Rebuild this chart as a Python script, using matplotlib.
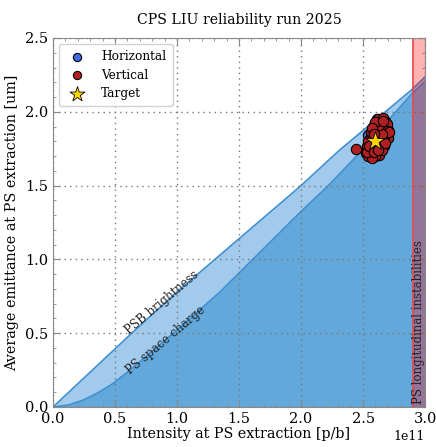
import matplotlib
matplotlib.use("Agg")
import matplotlib.pyplot as plt
import numpy as np

plt.rcParams['font.family'] = ['DejaVu Serif']

# PSB brightness limit (intensity in 1e11 p/b, emittance in um)
psb_x = [0.0, 0.635, 1.0, 1.5, 2.0, 2.31, 2.9, 3.0]
psb_y = [0.0, 0.50, 0.78, 1.14, 1.50, 1.74, 2.155, 2.237]
# PS space charge limit
pssc_x = [0.0, 0.12, 0.245, 0.36, 0.486, 0.65, 0.97, 1.347, 2.0, 2.22, 2.42, 2.9, 3.0]
pssc_y = [0.0, 0.012, 0.047, 0.095, 0.16, 0.27, 0.50, 0.78, 1.325, 1.50, 1.675, 2.128, 2.207]

# Measurements
hor_x = [2.55, 2.56, 2.60, 2.62, 2.63, 2.64, 2.67, 2.58, 2.61, 2.66, 2.59, 2.62, 2.65, 2.57, 2.64,
         2.54, 2.61, 2.68]
hor_y = [1.83, 1.85, 1.88, 1.92, 1.93, 1.90, 1.89, 1.86, 1.84, 1.85, 1.80, 1.78, 1.82, 1.76, 1.76,
         1.84, 1.95, 1.91]
ver_x = [2.52, 2.54, 2.55, 2.53, 2.56, 2.57, 2.58, 2.55, 2.57, 2.59, 2.60, 2.58, 2.61, 2.62, 2.63,
         2.61, 2.64, 2.62, 2.65, 2.66, 2.64, 2.67, 2.68, 2.66, 2.69, 2.68, 2.70, 2.63, 2.60, 2.57,
         2.65, 2.67, 2.59, 2.62, 2.66, 2.69, 2.56, 2.54, 2.53, 2.60, 2.44, 2.70, 2.63, 2.58, 2.65,
         2.55, 2.59, 2.61, 2.64, 2.67, 2.69, 2.71, 2.68, 2.65, 2.63, 2.60, 2.62, 2.66, 2.57, 2.59]
ver_y = [1.72, 1.70, 1.74, 1.77, 1.78, 1.72, 1.75, 1.81, 1.84, 1.79, 1.83, 1.88, 1.86, 1.81, 1.77,
         1.73, 1.84, 1.90, 1.88, 1.92, 1.94, 1.86, 1.90, 1.81, 1.84, 1.94, 1.88, 1.71, 1.70, 1.69,
         1.79, 1.77, 1.91, 1.95, 1.96, 1.92, 1.86, 1.80, 1.73, 1.76, 1.75, 1.82, 1.87, 1.82, 1.74,
         1.77, 1.73, 1.79, 1.80, 1.83, 1.87, 1.86, 1.79, 1.85, 1.91, 1.93, 1.74, 1.94, 1.89, 1.85]
target_x = [2.60]
target_y = [1.80]

instab_x = 2.9
scale = 1e11

fig = plt.figure(figsize=(4.36, 4.47), dpi=100)
ax = fig.add_axes([0.1216, 0.0895, 0.8534, 0.8255])

line_c = '#3d8fd1'
ax.fill_between(np.array(psb_x) * scale, psb_y, 0, color='#a2caec', lw=0, zorder=1)
ax.fill_between(np.array(pssc_x) * scale, pssc_y, 0, color='#63a8da', lw=0, zorder=1.1)
ax.plot(np.array(psb_x) * scale, psb_y, color=line_c, lw=1.2, zorder=2)
ax.plot(np.array(pssc_x) * scale, pssc_y, color=line_c, lw=1.2, zorder=2)

ax.axvspan(instab_x * scale, 3.0 * scale, facecolor='red', alpha=0.3, lw=0, zorder=3)
ax.axvline(instab_x * scale, color='#e8474a', lw=1.2, zorder=3)

ax.scatter(np.array(hor_x) * scale, hor_y, s=55, color='royalblue', edgecolor='black', lw=0.8,
           zorder=4, label='Horizontal')
ax.scatter(np.array(ver_x) * scale, ver_y, s=55, color='#b01f22', edgecolor='black', lw=0.8,
           zorder=5, label='Vertical')
ax.scatter(np.array(target_x) * scale, target_y, s=200, marker='*', color='gold', edgecolor='black',
           lw=0.6, zorder=6, label='Target')

ax.text(0.88 * scale, 0.71, 'PSB brightness', rotation=40, ha='center', va='center', fontsize=8.5,
        color='#222222', zorder=7)
ax.text(0.91 * scale, 0.45, 'PS space charge', rotation=40, ha='center', va='center', fontsize=8.5,
        color='#222222', zorder=7)
ax.text(2.95 * scale, 0.02, 'PS longitudinal instabilities', rotation=90, ha='center', va='bottom',
        fontsize=8.5, color='#222222', zorder=7)

ax.set_xlim(0, 3.0 * scale)
ax.set_ylim(0, 2.5)
ax.set_xticks(np.arange(0, 3.01, 0.5) * scale)
ax.set_yticks(np.arange(0, 2.51, 0.5))
ax.set_xlabel('Intensity at PS extraction [p/b]', fontsize=10.3, labelpad=1)
ax.set_ylabel('Average emittance at PS extraction [um]', fontsize=10.4)
ax.set_title('CPS LIU reliability run 2025', fontsize=10.2, pad=10)
ax.minorticks_on()
ax.tick_params(which='both', direction='in', top=True, right=True, color='#888888')
ax.tick_params(which='major', length=5, labelsize=10.5)
ax.tick_params(which='minor', length=2.5)
ax.grid(True, which='major', linestyle=(0, (1, 3)), color='#777777', lw=1.0, zorder=0)
ax.set_axisbelow(False)
for sp in ax.spines.values():
    sp.set_color('#888888')
    sp.set_zorder(8)
ax.xaxis.get_offset_text().set_fontsize(9)

ax.legend(loc='upper left', fontsize=8.7, frameon=True, fancybox=True, framealpha=0.9,
          edgecolor='#cccccc', borderpad=0.5, handletextpad=1.0, labelspacing=0.45,
          markerscale=0.8)

fig.savefig('out.png', dpi=100)
